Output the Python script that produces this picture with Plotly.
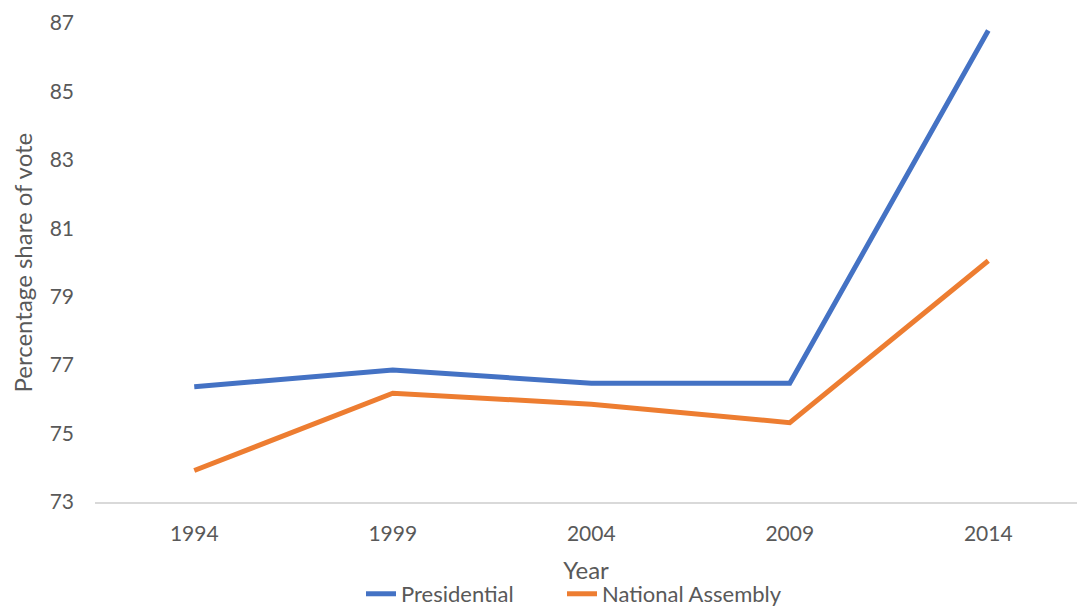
import plotly.graph_objects as go

years = ["1994", "1999", "2004", "2009", "2014"]
presidential = [76.37, 76.86, 76.47, 76.47, 86.78]
national_assembly = [73.92, 76.18, 75.86, 75.32, 80.05]
y_ticks = [73, 75, 77, 79, 81, 83, 85, 87]

FONT = "Lato"
GREY = "#595959"

fig = go.Figure()
fig.add_trace(go.Scatter(x=list(range(len(years))), y=presidential, mode="lines",
                         name="Presidential", legend="legend",
                         line=dict(color="#4472C4", width=5)))
fig.add_trace(go.Scatter(x=list(range(len(years))), y=national_assembly, mode="lines",
                         name="National Assembly", legend="legend2",
                         line=dict(color="#ED7D31", width=5)))

legend_common = dict(orientation="h", xref="container", xanchor="left",
                     y=-0.192, yanchor="middle", bgcolor="rgba(0,0,0,0)",
                     font=dict(size=22, color=GREY), itemwidth=30)

fig.update_layout(
    width=1077, height=606,
    margin=dict(l=95, r=0, t=23, b=104, autoexpand=False),
    plot_bgcolor="white", paper_bgcolor="white",
    font=dict(family=FONT, color=GREY, size=21),
    showlegend=True,
    legend=dict(x=361 / 1077, **legend_common),
    legend2=dict(x=562 / 1077, **legend_common),
    xaxis=dict(tickmode="array", tickvals=list(range(len(years))), ticktext=years,
               range=[-0.5, 4.447], showgrid=False, zeroline=False,
               showline=True, linecolor="#D9D9D9", linewidth=1.5,
               ticks="", tickfont=dict(size=21, color=GREY),
               ticklabelstandoff=12, automargin=False,
               title=dict(text="Year", font=dict(size=24, color=GREY), standoff=18)),
    yaxis=dict(range=[73, 87], tickvals=y_ticks, showgrid=False, zeroline=False,
               showline=False, ticks="", tickfont=dict(size=21, color=GREY),
               ticklabelstandoff=20, automargin=False),
    annotations=[dict(text="Percentage share of vote", xref="paper", yref="paper",
                      x=(22 - 95) / 982, y=0.5, xanchor="center", yanchor="middle",
                      textangle=-90, showarrow=False,
                      font=dict(size=24, color=GREY, family=FONT))],
)

fig.write_html("out.html")
